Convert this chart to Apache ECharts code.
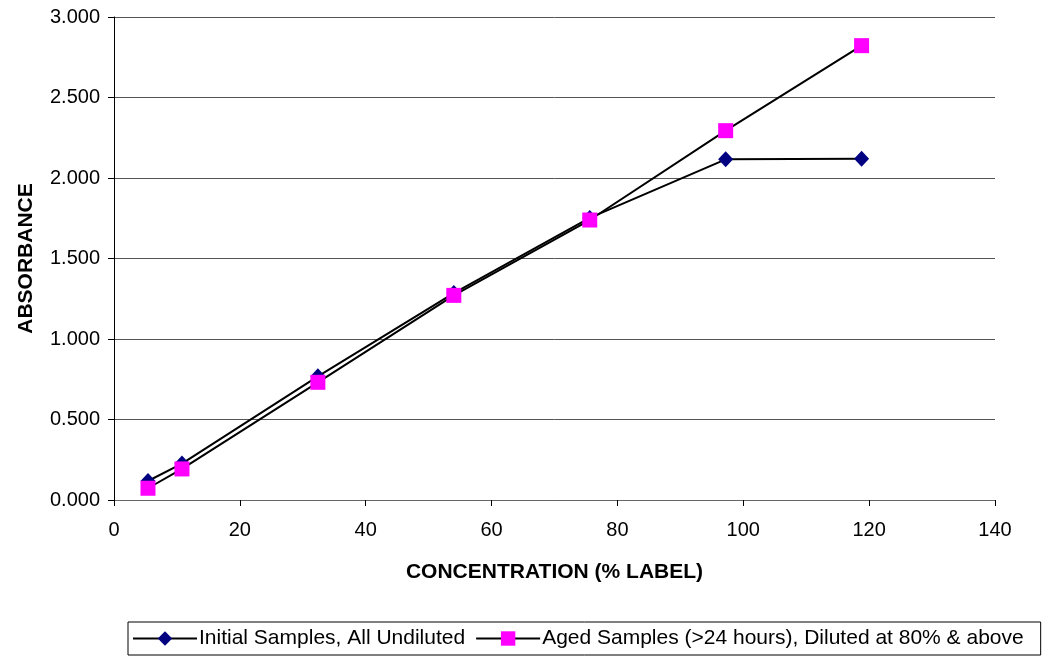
<!DOCTYPE html>
<html>
<head>
<meta charset="utf-8">
<script src="https://cdn.jsdelivr.net/npm/echarts@6/dist/echarts.min.js"></script>
<style>
html,body{margin:0;padding:0;background:#fff;}
#chart{width:1042px;height:656px;}
</style>
</head>
<body>
<div id="chart"></div>
<script>
var concentration = [5.4, 10.8, 32.4, 54, 75.6, 97.2, 118.8];
var initialSamples = [0.118, 0.226, 0.768, 1.285, 1.752, 2.116, 2.120];
var agedSamples = [0.073, 0.193, 0.731, 1.271, 1.739, 2.294, 2.822];
var seriesNames = ['Initial Samples, All Undiluted', 'Aged Samples (>24 hours), Diluted at 80% & above'];

function pairs(xs, ys){ return xs.map(function(x,i){ return [x, ys[i]]; }); }

var font = 'Liberation Sans, Arial, sans-serif';
var chart = echarts.init(document.getElementById('chart'), null, {renderer:'canvas'});
chart.setOption({
  animation: false,
  backgroundColor: '#fff',
  grid: {left:114, right:47, top:17, bottom:156, containLabel:false},
  legend: {
    left: 128, top: 622,
    itemWidth: 64, itemHeight: 18, itemGap: 10,
    borderColor: '#000', borderWidth: 1, padding: [6, 17, 6, 4],
    textStyle: {fontFamily: font, fontSize: 21, color: '#000', padding:[0,0,0,-3]},
    data: seriesNames
  },
  xAxis: {
    type: 'value', min: 0, max: 140, interval: 20,
    name: 'CONCENTRATION (% LABEL)', nameLocation: 'middle', nameGap: 62,
    nameTextStyle: {fontFamily: font, fontSize: 21, fontWeight: 'bold', color: '#000'},
    axisLine: {show: true, onZero: false, lineStyle: {color: '#666', width: 1}},
    axisTick: {show: true, inside: false, length: 6, lineStyle: {color: '#000'}},
    axisLabel: {fontFamily: font, fontSize: 20, color: '#000', margin: 20},
    splitLine: {show: false}
  },
  yAxis: {
    type: 'value', min: 0, max: 3, interval: 0.5,
    name: 'ABSORBANCE', nameLocation: 'middle', nameGap: 77, nameRotate: 90,
    nameTextStyle: {fontFamily: font, fontSize: 21, fontWeight: 'bold', color: '#000'},
    axisLine: {show: true, lineStyle: {color: '#000', width: 1}},
    axisTick: {show: true, inside: false, length: 6, lineStyle: {color: '#000'}},
    axisLabel: {fontFamily: font, fontSize: 20, color: '#000', margin: 14,
      formatter: function(v){ return v.toFixed(3); }},
    splitLine: {show: true, lineStyle: {color: '#555', width: 1}}
  },
  series: [
    {
      name: seriesNames[0], type: 'line', data: pairs(concentration, initialSamples),
      symbol: 'diamond', symbolSize: [15, 16], showAllSymbol: true,
      lineStyle: {color: '#000', width: 2},
      itemStyle: {color: '#000080', borderWidth: 0}
    },
    {
      name: seriesNames[1], type: 'line', data: pairs(concentration, agedSamples),
      symbol: 'rect', symbolSize: 15, showAllSymbol: true,
      lineStyle: {color: '#000', width: 2},
      itemStyle: {color: '#ff00ff', borderWidth: 0}
    }
  ]
});
</script>
</body>
</html>
